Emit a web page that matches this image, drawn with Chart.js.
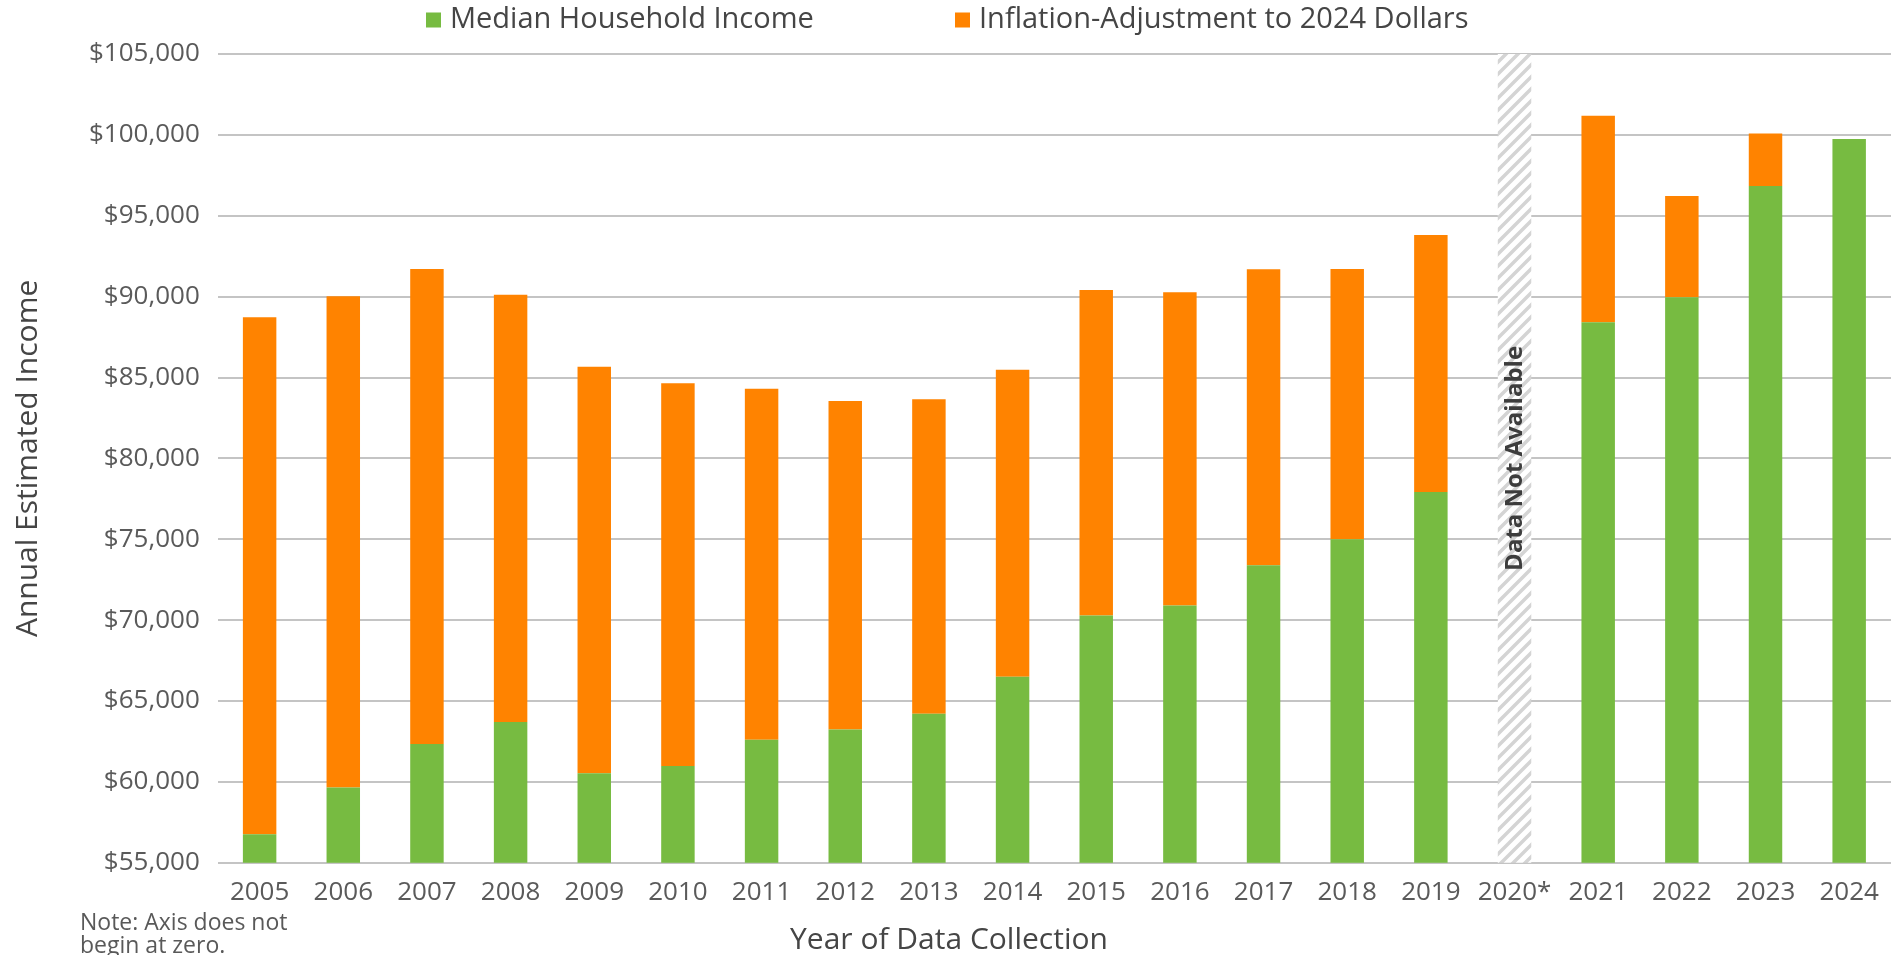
<!DOCTYPE html>
<html>
<head>
<meta charset="utf-8">
<script src="https://cdn.jsdelivr.net/npm/chart.js@4.4.1/dist/chart.umd.min.js"></script>
<style>
  body { margin: 0; background: #fff; }
</style>
</head>
<body>
<canvas id="incomeChart" width="1898" height="955"></canvas>
<script>
// categories
const years = ['2005', '2006', '2007', '2008', '2009', '2010', '2011', '2012', '2013', '2014',
  '2015', '2016', '2017', '2018', '2019', '2020*', '2021', '2022', '2023', '2024'];

// nominal median household income (green)
const medianIncome = [56770, 59650, 62340, 63700, 60530, 60990, 62600, 63240, 64220, 66500,
  70290, 70900, 73390, 75000, 77920, null, 88410, 89960, 96840, 99750];

// same income in 2024 dollars (top of orange)
const adjustedIncome = [88730, 90020, 91710, 90120, 85670, 84640, 84310, 83550, 83650, 85480,
  90410, 90270, 91690, 91710, 93810, null, 101180, 96220, 100080, 99750];

const missingYear = '2020*';
const yMin = 55000;
const yMax = 105000;
const yStep = 5000;

const green = '#77bb41';
const orange = '#ff8300';
const FONT = '"Open Sans", sans-serif';

// orange part = adjustment on top of the nominal value
const adjustment = adjustedIncome.map((v, i) => v == null ? null : v - medianIncome[i]);
// hatched "no data" column
const missing = years.map(y => y === missingYear ? yMax : null);

function makeHatch() {
  const c = document.createElement('canvas');
  c.width = 12; c.height = 12;
  const g = c.getContext('2d');
  g.fillStyle = '#ffffff';
  g.fillRect(0, 0, 12, 12);
  g.strokeStyle = '#d4d4d4';
  g.lineWidth = 3.5;
  g.beginPath();
  g.moveTo(-3, 15); g.lineTo(15, -3);
  g.moveTo(-9, 9); g.lineTo(9, -9);
  g.moveTo(3, 21); g.lineTo(21, 3);
  g.stroke();
  return g.createPattern(c, 'repeat');
}

const extras = {
  id: 'extras',
  afterDatasetsDraw(chart) {
    const ctx = chart.ctx;
    const bar = chart.getDatasetMeta(2).data[years.indexOf(missingYear)];
    const y = chart.scales.y.getPixelForValue(80000);
    ctx.save();
    ctx.translate(bar.x, y);
    ctx.rotate(-Math.PI / 2);
    ctx.font = 'bold 24px ' + FONT;
    ctx.fillStyle = '#3d3d3d';
    ctx.textAlign = 'center';
    ctx.textBaseline = 'middle';
    ctx.fillText('Data Not Available', 0, 1);
    ctx.restore();
  },
  afterDraw(chart) {
    const ctx = chart.ctx;
    ctx.save();
    // legend
    ctx.font = '29px ' + FONT;
    ctx.textBaseline = 'middle';
    const items = chart.data.datasets.slice(0, 2);
    const box = 15, gapText = 9;
    const starts = [426, 955];
    items.forEach((d, i) => {
      const x = starts[i];
      ctx.fillStyle = d.backgroundColor;
      ctx.fillRect(x, 20 - box / 2, box, box);
      ctx.fillStyle = '#454545';
      ctx.fillText(d.label, x + box + gapText, 20);
    });
    // x axis title, centred on the page
    ctx.font = '30px ' + FONT;
    ctx.textAlign = 'center';
    ctx.fillText('Year of Data Collection', 949, 940);
    // note
    ctx.font = '23px ' + FONT;
    ctx.fillStyle = '#595959';
    ctx.textAlign = 'left';
    ctx.fillText('Note: Axis does not', 80, 923);
    ctx.fillText('begin at zero.', 80, 946);
    ctx.restore();
  }
};

new Chart(document.getElementById('incomeChart'), {
  type: 'bar',
  data: {
    labels: years,
    datasets: [
      { label: 'Median Household Income', data: medianIncome, backgroundColor: green },
      { label: 'Inflation-Adjustment to 2024 Dollars', data: adjustment, backgroundColor: orange },
      { label: 'Data Not Available', data: missing, backgroundColor: makeHatch() }
    ]
  },
  options: {
    responsive: false,
    devicePixelRatio: 1,
    animation: false,
    datasets: { bar: { categoryPercentage: 1, barPercentage: 0.4 } },
    layout: { padding: { top: 54, left: 10, right: 7, bottom: 33 } },
    plugins: {
      legend: { display: false },
      tooltip: { enabled: false }
    },
    scales: {
      x: {
        stacked: true,
        grid: { display: false, drawTicks: false },
        border: { display: false },
        ticks: { color: '#5a5a5a', font: { family: FONT, size: 26 }, padding: 14 }
      },
      y: {
        stacked: true,
        min: yMin,
        max: yMax,
        grid: { color: '#c4c4c4', lineWidth: 2, drawTicks: false },
        border: { display: false },
        ticks: {
          stepSize: yStep, color: '#5a5a5a', padding: 18,
          font: { family: FONT, size: 26 },
          callback: v => '$' + v.toLocaleString('en-US')
        },
        title: {
          display: true, text: 'Annual Estimated Income', color: '#454545',
          font: { family: FONT, size: 30 }, padding: { top: 0, bottom: 25 }
        }
      }
    }
  },
  plugins: [extras]
});
</script>
</body>
</html>
